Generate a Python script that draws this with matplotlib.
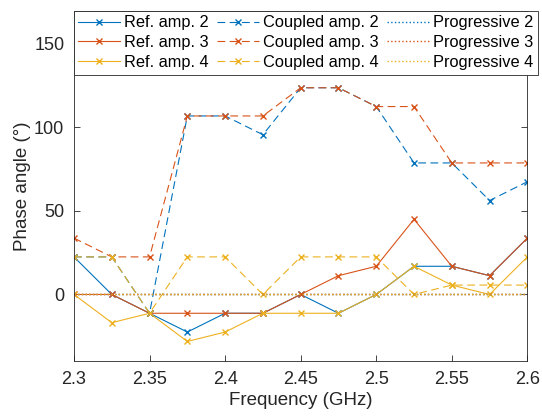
import matplotlib.pyplot as plt

plt.rcParams['font.family'] = ['Liberation Sans', 'DejaVu Sans']

# frequency points (GHz)
freq = [2.3, 2.325, 2.35, 2.375, 2.4, 2.425, 2.45, 2.475, 2.5, 2.525, 2.55, 2.575, 2.6]

# phase angles (deg)
ref2 = [22.5, 0, -11.25, -22.5, -11.25, -11.25, 0, -11.25, 0, 16.875, 16.875, 11.25, 33.75]
ref3 = [0, 0, -11.25, -11.25, -11.25, -11.25, 0, 11.25, 16.875, 45, 16.875, 11.25, 33.75]
ref4 = [0, -16.875, -11.25, -28.125, -22.5, -11.25, -11.25, -11.25, 0, 16.875, 5.625, 0, 22.5]
cpl2 = [22.5, 22.5, -11.25, 106.875, 106.875, 95.625, 123.75, 123.75, 112.5, 78.75, 78.75, 56.25, 67.5]
cpl3 = [33.75, 22.5, 22.5, 106.875, 106.875, 106.875, 123.75, 123.75, 112.5, 112.5, 78.75, 78.75, 78.75]
cpl4 = [22.5, 22.5, -11.25, 22.5, 22.5, 0, 22.5, 22.5, 22.5, 0, 5.625, 5.625, 5.625]
prog2 = [0] * len(freq)
prog3 = [0] * len(freq)
prog4 = [0] * len(freq)

blue = '#0072BD'
red = '#D95319'
yel = '#EDB120'

fig = plt.figure(figsize=(5.42, 4.17), dpi=100)
ax = fig.add_axes([0.1365, 0.1336, 0.8365, 0.8412])

lw = 0.8
ms = 5
ax.plot(freq, ref2, '-x', color=blue, lw=lw, ms=ms, label='Ref. amp. 2')
ax.plot(freq, ref3, '-x', color=red, lw=lw, ms=ms, label='Ref. amp. 3')
ax.plot(freq, ref4, '-x', color=yel, lw=lw, ms=ms, label='Ref. amp. 4')
ax.plot(freq, cpl2, '--x', color=blue, lw=lw, ms=ms, dashes=(7, 4), label='Coupled amp. 2')
ax.plot(freq, cpl3, '--x', color=red, lw=lw, ms=ms, dashes=(7, 4), label='Coupled amp. 3')
ax.plot(freq, cpl4, '--x', color=yel, lw=lw, ms=ms, dashes=(7, 4), label='Coupled amp. 4')
ax.plot(freq, prog2, ':', color=blue, lw=1.0, label='Progressive 2')
ax.plot(freq, prog3, ':', color=red, lw=1.0, label='Progressive 3')
ax.plot(freq, prog4, ':', color=yel, lw=1.0, label='Progressive 4')

ax.set_xlim(2.3, 2.6)
ax.set_ylim(-40, 170)
ax.set_xticks([2.3, 2.35, 2.4, 2.45, 2.5, 2.55, 2.6])
ax.set_xticklabels(['2.3', '2.35', '2.4', '2.45', '2.5', '2.55', '2.6'])
ax.set_yticks([0, 50, 100, 150])
ax.tick_params(direction='in', top=True, right=True, labelsize=13, colors='#262626',
               length=4, width=0.6, pad=7)
for s in ax.spines.values():
    s.set_color('#262626')
    s.set_linewidth(0.6)

ax.set_xlabel('Frequency (GHz)', fontsize=13.5, color='#262626', labelpad=3)
ax.set_ylabel('Phase angle (°)', fontsize=13.5, color='#262626', labelpad=2)

leg = ax.legend(ncol=3, loc='upper left', bbox_to_anchor=(-0.001, 1.0), fontsize=11.8,
                handlelength=2.55, handletextpad=0.25, columnspacing=0.5, labelspacing=0.28,
                borderpad=0.3, borderaxespad=0, fancybox=False, framealpha=1)
leg.get_frame().set_edgecolor('#262626')
leg.get_frame().set_linewidth(0.6)

fig.savefig('out.png', dpi=100)
